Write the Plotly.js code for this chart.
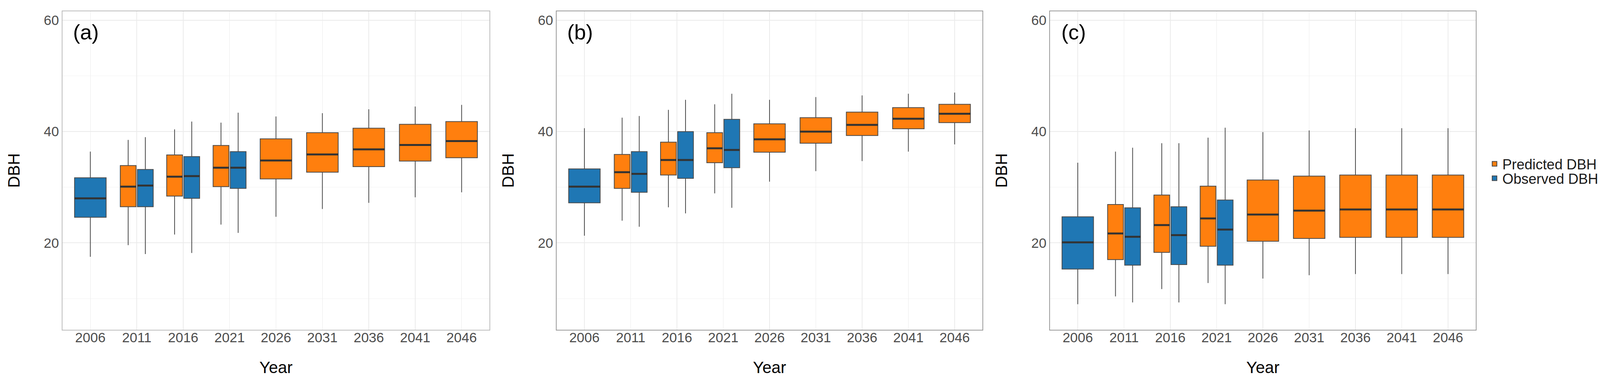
<!DOCTYPE html>
<html>
<head>
<meta charset="utf-8">
<script src="https://cdn.plot.ly/plotly-3.0.1.min.js"></script>
<style>
html,body{margin:0;padding:0;background:#fff;}
#chart{width:4117px;height:984px;}
</style>
</head>
<body>
<div id="chart"></div>
<script>
// ---- data ----
var years = ['2006','2011','2016','2021','2026','2031','2036','2041','2046'];
var predYears = ['2011','2016','2021','2026','2031','2036','2041','2046'];
var obsYears = ['2006','2011','2016','2021'];
var pairedYears = ['2011','2016','2021'];
var panelLabels = ['(a)','(b)','(c)'];
var seriesNames = ['Predicted DBH','Observed DBH'];

// Panel (a)
var predA_upper  = [38.5,40.4,41.6,42.7,43.3,44.0,44.5,44.8];
var predA_q3     = [33.9,35.8,37.5,38.7,39.8,40.6,41.3,41.8];
var predA_median = [30.1,31.9,33.5,34.8,35.9,36.8,37.6,38.3];
var predA_q1     = [26.5,28.4,30.1,31.5,32.7,33.7,34.7,35.3];
var predA_lower  = [19.6,21.5,23.3,24.7,26.1,27.2,28.2,29.1];
var obsA_upper  = [36.4,39.0,41.8,43.4];
var obsA_q3     = [31.7,33.2,35.5,36.4];
var obsA_median = [28.0,30.3,32.0,33.5];
var obsA_q1     = [24.6,26.5,28.0,29.8];
var obsA_lower  = [17.5,18.0,18.2,21.8];

// Panel (b)
var predB_upper  = [42.5,43.9,44.9,45.7,46.2,46.5,46.8,47.0];
var predB_q3     = [35.9,38.1,39.8,41.4,42.5,43.5,44.3,44.9];
var predB_median = [32.7,34.9,37.0,38.6,40.0,41.2,42.3,43.2];
var predB_q1     = [29.8,32.2,34.4,36.3,37.9,39.3,40.5,41.6];
var predB_lower  = [24.0,26.4,28.9,31.0,32.9,34.7,36.4,37.7];
var obsB_upper  = [40.6,42.8,45.7,46.8];
var obsB_q3     = [33.3,36.4,40.0,42.2];
var obsB_median = [30.1,32.4,34.9,36.7];
var obsB_q1     = [27.2,29.1,31.6,33.5];
var obsB_lower  = [21.3,22.9,25.3,26.3];

// Panel (c)
var predC_upper  = [36.4,37.9,38.9,39.9,40.2,40.6,40.6,40.6];
var predC_q3     = [26.9,28.6,30.2,31.3,32.0,32.2,32.2,32.2];
var predC_median = [21.7,23.2,24.4,25.1,25.8,26.0,26.0,26.0];
var predC_q1     = [17.0,18.3,19.4,20.3,20.8,21.0,21.0,21.0];
var predC_lower  = [10.4,11.7,12.8,13.6,14.2,14.4,14.4,14.4];
var obsC_upper  = [34.4,37.1,37.9,40.7];
var obsC_q3     = [24.7,26.3,26.5,27.7];
var obsC_median = [20.1,21.1,21.4,22.4];
var obsC_q1     = [15.3,16.0,16.1,16.0];
var obsC_lower  = [9.0,9.3,9.3,9.0];

// ---- build ----
var W = 4117, H = 984;
var predColor = '#FF7F0E', obsColor = '#1F77B4';
var FONT = 'Liberation Sans, Arial, Helvetica, sans-serif';

var panels = [
  {pred:{u:predA_upper,q3:predA_q3,m:predA_median,q1:predA_q1,l:predA_lower},
   obs:{u:obsA_upper,q3:obsA_q3,m:obsA_median,q1:obsA_q1,l:obsA_lower},
   left:160, right:1253, border:'#BDBDBD'},
  {pred:{u:predB_upper,q3:predB_q3,m:predB_median,q1:predB_q1,l:predB_lower},
   obs:{u:obsB_upper,q3:obsB_q3,m:obsB_median,q1:obsB_q1,l:obsB_lower},
   left:1425, right:2515, border:'#9A9A9A'},
  {pred:{u:predC_upper,q3:predC_q3,m:predC_median,q1:predC_q1,l:predC_lower},
   obs:{u:obsC_upper,q3:obsC_q3,m:obsC_median,q1:obsC_q1,l:obsC_lower},
   left:2688, right:3778, border:'#9A9A9A'}
];

function subset(xs, stats, keep){
  var out = {x:[],u:[],q3:[],m:[],q1:[],l:[]};
  xs.forEach(function(x,i){
    if (keep(x)) {
      out.x.push(x); out.u.push(stats.u[i]); out.q3.push(stats.q3[i]);
      out.m.push(stats.m[i]); out.q1.push(stats.q1[i]); out.l.push(stats.l[i]);
    }
  });
  return out;
}
function isPaired(x){ return pairedYears.indexOf(x) >= 0; }
function notPaired(x){ return pairedYears.indexOf(x) < 0; }

function boxTrace(s, name, color, xa, ya, align, offset, legendId){
  var t = {
    type:'box', name:name, x:s.x,
    q1:s.q1, median:s.m, q3:s.q3, lowerfence:s.l, upperfence:s.u,
    xaxis:xa, yaxis:ya,
    fillcolor:color, line:{color:'#4A4A4A', width:2},
    whiskerwidth:0, boxpoints:false,
    alignmentgroup:align, offsetgroup:offset,
    showlegend:!!legendId,
    hoverinfo:'skip'
  };
  if (legendId) t.legend = legendId;
  return t;
}
// thick median bar: a zero-height box drawn at the median of the same box
function medianTrace(s, xa, ya, align, offset){
  return {
    type:'box', x:s.x,
    q1:s.m, median:s.m, q3:s.m, lowerfence:s.m, upperfence:s.m,
    xaxis:xa, yaxis:ya,
    fillcolor:'rgba(0,0,0,0)', line:{color:'#333333', width:5},
    whiskerwidth:0, boxpoints:false,
    alignmentgroup:align, offsetgroup:offset,
    showlegend:false, hoverinfo:'skip'
  };
}

var data = [];
var legFont = {family:FONT, size:36.5, color:'#1A1A1A'};
var layout = {
  width:W, height:H,
  margin:{l:0,r:0,t:0,b:0},
  paper_bgcolor:'#ffffff', plot_bgcolor:'#ffffff',
  boxmode:'group', boxgap:0.26, boxgroupgap:0.08,
  showlegend:true,
  legend:{x:3806/W, y:1-420/H, xanchor:'left', yanchor:'middle',
          font:legFont, itemwidth:30, bgcolor:'rgba(0,0,0,0)'},
  legend2:{x:3806/W, y:1-457/H, xanchor:'left', yanchor:'middle',
          font:legFont, itemwidth:30, bgcolor:'rgba(0,0,0,0)'},
  annotations:[],
  font:{family:FONT}
};

var yDomain = [1-845/H, 1-29/H];
panels.forEach(function(p, k){
  var xa = k===0 ? 'x' : 'x'+(k+1);
  var ya = k===0 ? 'y' : 'y'+(k+1);
  var xKey = k===0 ? 'xaxis' : 'xaxis'+(k+1);
  var yKey = k===0 ? 'yaxis' : 'yaxis'+(k+1);
  var leg = (k===2);
  var pp = subset(predYears,p.pred,isPaired);
  var op = subset(obsYears,p.obs,isPaired);
  var os = subset(obsYears,p.obs,notPaired);
  var ps = subset(predYears,p.pred,notPaired);
  data.push(boxTrace(pp, seriesNames[0], predColor, xa, ya, 'pair'+k, 'pred', leg ? 'legend' : null));
  data.push(boxTrace(op, seriesNames[1], obsColor, xa, ya, 'pair'+k, 'obs', leg ? 'legend2' : null));
  data.push(boxTrace(os, seriesNames[1], obsColor, xa, ya, 'single'+k, 'one', null));
  data.push(boxTrace(ps, seriesNames[0], predColor, xa, ya, 'single'+k, 'one', null));
  data.push(medianTrace(pp, xa, ya, 'pair'+k, 'pred'));
  data.push(medianTrace(op, xa, ya, 'pair'+k, 'obs'));
  data.push(medianTrace(os, xa, ya, 'single'+k, 'one'));
  data.push(medianTrace(ps, xa, ya, 'single'+k, 'one'));

  layout[xKey] = {
    domain:[p.left/W, p.right/W], anchor:ya,
    type:'category', categoryorder:'array', categoryarray:years,
    range:[-0.6, years.length-1+0.6],
    showgrid:true, gridcolor:'#EBEBEB', gridwidth:1.5,
    showline:true, mirror:true, linecolor:p.border, linewidth:2,
    ticks:'', ticklabelstandoff:-12,
    tickfont:{family:FONT, size:35, color:'#4D4D4D'},
    title:{text:'Year', font:{family:FONT, size:42, color:'#000000'}, standoff:44},
    zeroline:false, fixedrange:true
  };
  layout[yKey] = {
    domain:yDomain, anchor:xa,
    range:[4.4, 61.6], tick0:0, dtick:20,
    showgrid:true, gridcolor:'#EBEBEB', gridwidth:2,
    minor:{dtick:10, tick0:0, showgrid:true, gridcolor:'#F2F2F2', gridwidth:1.2, ticks:''},
    showline:true, mirror:true, linecolor:p.border, linewidth:2,
    ticks:'', ticklabelstandoff:0,
    tickfont:{family:FONT, size:35, color:'#4D4D4D'},
    title:{text:'DBH', font:{family:FONT, size:42, color:'#000000'}, standoff:48},
    zeroline:false, fixedrange:true
  };
  layout.annotations.push({
    text:panelLabels[k], xref:xa+' domain', yref:'paper',
    x:60/(p.right-p.left), y:1-82/H, xanchor:'center', yanchor:'middle',
    showarrow:false, font:{family:FONT, size:54, color:'#000000'}
  });
});

Plotly.newPlot('chart', data, layout, {displayModeBar:false, staticPlot:true});
</script>
</body>
</html>
